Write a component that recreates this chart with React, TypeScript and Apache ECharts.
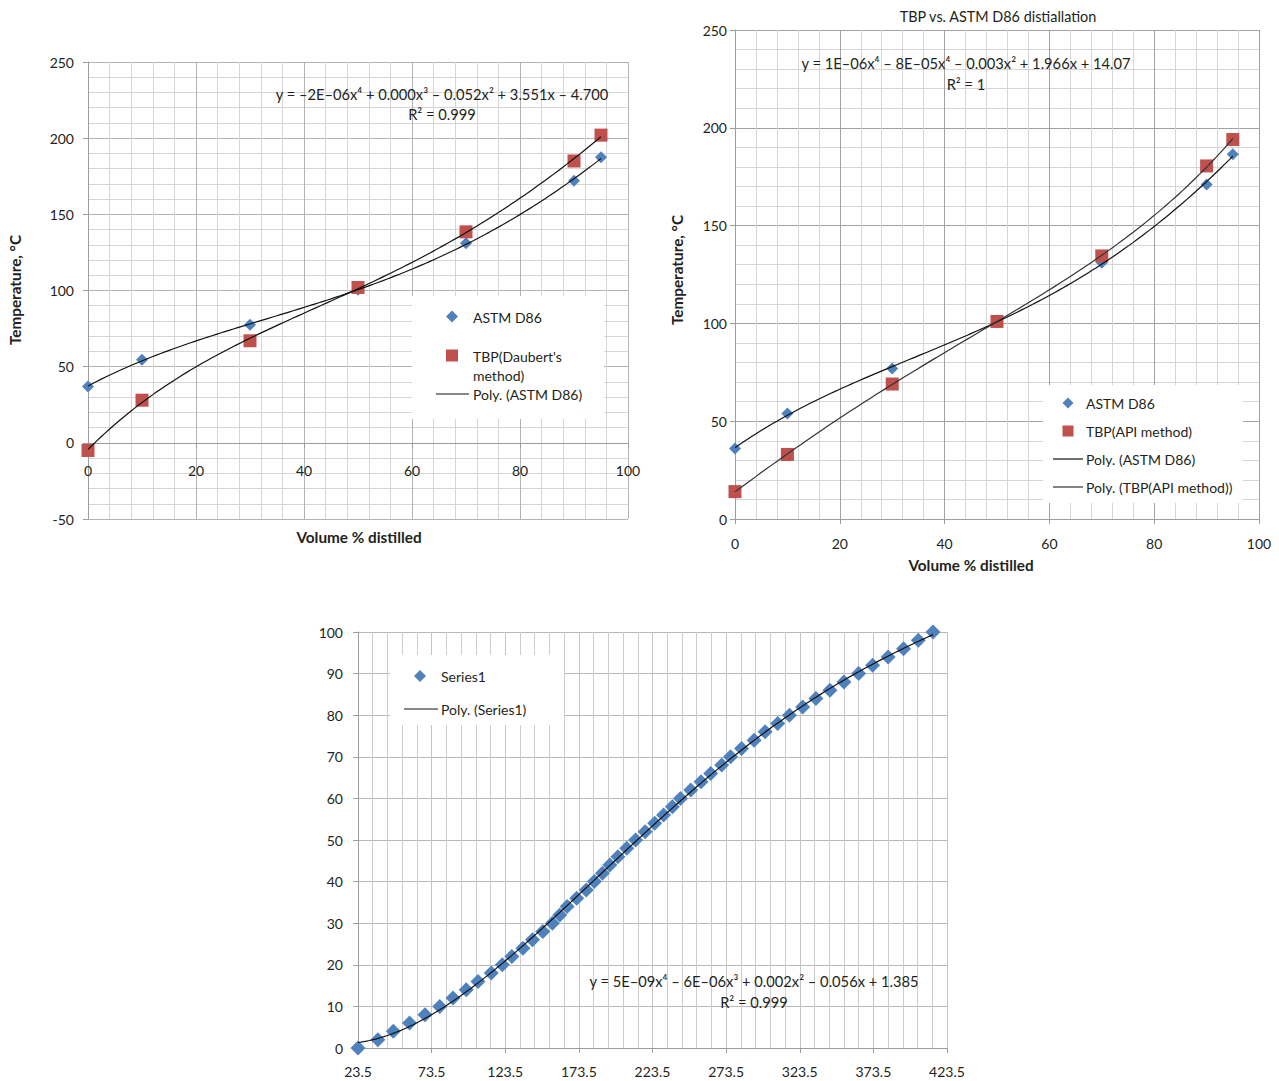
import React, { useEffect, useRef } from "react";
import * as echarts from "echarts";

// ---------- data ----------
const VOL_PCT = [0, 10, 30, 50, 70, 90, 95];
const ASTM_A = [37, 54.5, 77.5, 100.5, 131, 172, 187.5];
const TBP_DAUBERT = [-5, 28, 67, 102, 138.5, 185, 202];
const ASTM_B = [36, 54, 77, 101, 131, 171, 186.5];
const TBP_API = [14, 33, 69, 101, 134.5, 180.5, 194];

const S1_X = [
  23.5, 37, 47.5, 58.5, 69, 79, 88, 97, 105, 114, 121.5, 128, 135.5, 142, 149, 155.5, 160.5,
  165.5, 172, 178.5, 184, 189.5, 194.5, 200, 206, 212, 218.5, 225, 231, 237, 242.5, 249.5,
  256.5, 263, 270.5, 276.5, 284, 292.5, 300, 308.5, 316.5, 325.5, 334.5, 344, 353.5, 363.5,
  373, 383.5, 394, 404, 414,
];
const S1_Y = [
  0, 2, 4, 6, 8, 10, 12, 14, 16, 18, 20, 22, 24, 26, 28, 30, 32, 34, 36, 38, 40, 42, 44, 46,
  48, 50, 52, 54, 56, 58, 60, 62, 64, 66, 68, 70, 72, 74, 76, 78, 80, 82, 84, 86, 88, 90, 92,
  94, 96, 98, 100,
];

const EQ_1 = "y = –2E–06x⁴ + 0.000x³ – 0.052x² + 3.551x – 4.700";
const R2_1 = "R² = 0.999";
const EQ_2 = "y = 1E–06x⁴ – 8E–05x⁴ – 0.003x² + 1.966x + 14.07";
const R2_2 = "R² = 1";
const EQ_3 = "y = 5E–09x⁴ – 6E–06x³ + 0.002x² – 0.056x + 1.385";
const R2_3 = "R² = 0.999";

// ---------- helpers ----------
const FONT = "Lato, 'Noto Sans', sans-serif";
const TXT = "#231f20";
const MAJOR = "#b3b3b3";
const MINOR = "#d6d6d6";
const AXIS = "#9d9d9d";
const BLUE = "#4f81bd";
const RED = "#c0504d";

function polyfit(xs: number[], ys: number[], deg: number) {
  const n = xs.length;
  const mx = xs.reduce((a, b) => a + b, 0) / n;
  const sx = Math.max(...xs.map((x) => Math.abs(x - mx))) || 1;
  const t = xs.map((x) => (x - mx) / sx);
  const m = deg + 1;
  const A: number[][] = Array.from({ length: m }, () => new Array(m + 1).fill(0));
  for (let i = 0; i < n; i++) {
    for (let r = 0; r < m; r++) {
      for (let c = 0; c < m; c++) A[r][c] += Math.pow(t[i], r + c);
      A[r][m] += ys[i] * Math.pow(t[i], r);
    }
  }
  for (let col = 0; col < m; col++) {
    let piv = col;
    for (let r = col + 1; r < m; r++) if (Math.abs(A[r][col]) > Math.abs(A[piv][col])) piv = r;
    const tmp = A[col];
    A[col] = A[piv];
    A[piv] = tmp;
    for (let r = 0; r < m; r++) {
      if (r === col) continue;
      const f = A[r][col] / A[col][col];
      for (let c = col; c <= m; c++) A[r][c] -= f * A[col][c];
    }
  }
  const coef = A.map((row, i) => row[m] / row[i]);
  return (x: number) => {
    const u = (x - mx) / sx;
    let s = 0;
    for (let k = m - 1; k >= 0; k--) s = s * u + coef[k];
    return s;
  };
}

function trend(xs: number[], ys: number[], n = 120) {
  const f = polyfit(xs, ys, 4);
  const lo = Math.min(...xs);
  const hi = Math.max(...xs);
  const pts: number[][] = [];
  for (let i = 0; i <= n; i++) {
    const x = lo + ((hi - lo) * i) / n;
    pts.push([x, f(x)]);
  }
  return pts;
}

const zip = (xs: number[], ys: number[]) => xs.map((x, i) => [x, ys[i]]);

function txt(x: number, y: number, text: string, o: any = {}) {
  return {
    type: "text",
    x,
    y,
    rotation: o.rotation || 0,
    z: 120,
    style: {
      text,
      fill: TXT,
      fontFamily: FONT,
      fontSize: o.size || 14,
      fontWeight: o.bold ? "bold" : "normal",
      textAlign: o.align || "left",
      textVerticalAlign: "middle",
    },
  };
}
function diamond(x: number, y: number, r = 6) {
  return {
    type: "polygon",
    z: 120,
    shape: { points: [[x, y - r], [x + r, y], [x, y + r], [x - r, y]] },
    style: { fill: BLUE },
  };
}
function square(x: number, y: number, s = 12) {
  return { type: "rect", z: 120, shape: { x: x - s / 2, y: y - s / 2, width: s, height: s }, style: { fill: RED } };
}
function hline(x1: number, x2: number, y: number, color = "#111") {
  return { type: "line", z: 120, shape: { x1, y1: y, x2, y2: y }, style: { stroke: color, lineWidth: 1.2 } };
}
function box(x: number, y: number, w: number, h: number) {
  return { type: "rect", z: 110, shape: { x, y, width: w, height: h }, style: { fill: "#ffffff" } };
}

const label = (margin: number) => ({ margin, color: TXT, fontSize: 14, fontFamily: FONT });

function valueAxis(gridIndex: number, min: number, max: number, interval: number, o: any = {}) {
  return {
    gridIndex,
    type: "value",
    min,
    max,
    interval,
    offset: o.offset || 0,
    axisLine: { show: true, onZero: false, lineStyle: { color: AXIS, width: 1 } },
    axisTick: { show: true, length: 5, lineStyle: { color: AXIS } },
    axisLabel: { ...label(o.margin ?? 10), formatter: o.formatter },
    splitLine: { show: true, lineStyle: { color: o.major || MAJOR, width: 1 } },
    minorTick: { show: false, splitNumber: o.minor || 5 },
    minorSplitLine: { show: !!o.minor, lineStyle: { color: o.minorColor || MINOR, width: 1 } },
  };
}

function lineSeries(name: string, x: number, y: number, data: number[][], color = "#111") {
  return {
    name,
    type: "line",
    xAxisIndex: x,
    yAxisIndex: y,
    data,
    showSymbol: false,
    symbol: "none",
    smooth: false,
    z: 5,
    lineStyle: { color, width: 1.2 },
    silent: true,
  };
}
function scatter(name: string, idx: number, data: number[][], symbol: string, color: string, size: number) {
  return {
    name,
    type: "scatter",
    xAxisIndex: idx,
    yAxisIndex: idx,
    data,
    symbol,
    symbolSize: size,
    itemStyle: { color, opacity: 1 },
    z: 3,
  };
}

export default function App() {
  const ref = useRef<HTMLDivElement>(null);
  useEffect(() => {
    if (!ref.current) return;
    const chart = echarts.init(ref.current, undefined, { renderer: "svg" });
    const option: any = {
      animation: false,
      backgroundColor: "#ffffff",
      grid: [
        { left: 88, top: 62, width: 540, height: 457 },
        { left: 735, top: 30, width: 524, height: 489 },
        { left: 358, top: 632, width: 589, height: 416 },
      ],
      xAxis: [
        // axis drawn where y = 0 (76 px above the -50 bottom edge)
        valueAxis(0, 0, 100, 20, { offset: -76, margin: 20, minor: 5 }),
        valueAxis(1, 0, 100, 20, { margin: 17, minor: 5, major: "#a2a2a2" }),
        valueAxis(2, 23.5, 423.5, 50, {
          margin: 16,
          minor: 5,
          major: "#c4c4c4",
          minorColor: "#cdcdcd",
          formatter: (v: number) => String(Math.round(v * 10) / 10),
        }),
      ],
      yAxis: [
        valueAxis(0, -50, 250, 50, { margin: 14, minor: 5 }),
        valueAxis(1, 0, 250, 50, { margin: 8, minor: 5, major: "#a2a2a2" }),
        valueAxis(2, 0, 100, 10, { margin: 15, major: "#b8b8b8" }),
      ],
      series: [
        scatter("ASTM D86", 0, zip(VOL_PCT, ASTM_A), "diamond", BLUE, 12),
        scatter("TBP(Daubert's method)", 0, zip(VOL_PCT, TBP_DAUBERT), "rect", RED, 13),
        lineSeries("Poly. (ASTM D86)", 0, 0, trend(VOL_PCT, ASTM_A)),
        lineSeries("Poly. (TBP(Daubert's method))", 0, 0, trend(VOL_PCT, TBP_DAUBERT)),
        scatter("ASTM D86 ", 1, zip(VOL_PCT, ASTM_B), "diamond", BLUE, 12),
        scatter("TBP(API method)", 1, zip(VOL_PCT, TBP_API), "rect", RED, 13),
        lineSeries("Poly. (ASTM D86) ", 1, 1, trend(VOL_PCT, ASTM_B)),
        lineSeries("Poly. (TBP(API method))", 1, 1, trend(VOL_PCT, TBP_API), "#333"),
        scatter("Series1", 2, zip(S1_X, S1_Y), "diamond", BLUE, 15),
        lineSeries("Poly. (Series1)", 2, 2, trend(S1_X, S1_Y, 200)),
      ],
      graphic: {
        elements: [
          // chart 1 texts
          txt(359, 537, "Volume % distilled", { bold: true, align: "center", size: 15.3 }),
          txt(15, 290, "Temperature, °C", { bold: true, align: "center", rotation: Math.PI / 2, size: 15.3 }),
          txt(442, 94, EQ_1, { align: "center", size: 14.7 }),
          txt(442, 114, R2_1, { align: "center", size: 14.7 }),
          box(412, 296, 192, 123),
          diamond(452, 316.5),
          txt(473, 317, "ASTM D86"),
          square(452, 355.5, 12),
          txt(473, 356, "TBP(Daubert's"),
          txt(473, 375.5, "method)"),
          hline(436, 469, 394),
          txt(473, 394, "Poly. (ASTM D86)"),
          // chart 2 texts
          txt(998, 16, "TBP vs. ASTM D86 distiallation", { align: "center", size: 14.4 }),
          txt(971, 565, "Volume % distilled", { bold: true, align: "center", size: 15.3 }),
          txt(677, 270, "Temperature, °C", { bold: true, align: "center", rotation: Math.PI / 2, size: 15.3 }),
          txt(966, 63, EQ_2, { align: "center", size: 14.7 }),
          txt(966, 84, R2_2, { align: "center", size: 14.7 }),
          box(1043, 385, 200, 118),
          diamond(1068, 403, 5.5),
          txt(1086, 403, "ASTM D86"),
          square(1068, 431, 11),
          txt(1086, 431, "TBP(API method)"),
          hline(1053, 1083, 459),
          txt(1086, 459, "Poly. (ASTM D86)"),
          hline(1053, 1083, 487, "#333"),
          txt(1086, 487, "Poly. (TBP(API method))"),
          // chart 3 texts
          txt(754, 981, EQ_3, { align: "center", size: 14.7 }),
          txt(754, 1002, R2_3, { align: "center", size: 14.7 }),
          box(390, 655, 174, 70),
          diamond(420, 676, 6),
          txt(441, 676, "Series1"),
          hline(404, 438, 709),
          txt(441, 709, "Poly. (Series1)"),
        ],
      },
    };
    chart.setOption(option);
    return () => chart.dispose();
  }, []);
  return (
    <div
      ref={ref}
      style={{ position: "absolute", left: 0, top: 0, width: 1279, height: 1081, background: "#fff" }}
    />
  );
}
